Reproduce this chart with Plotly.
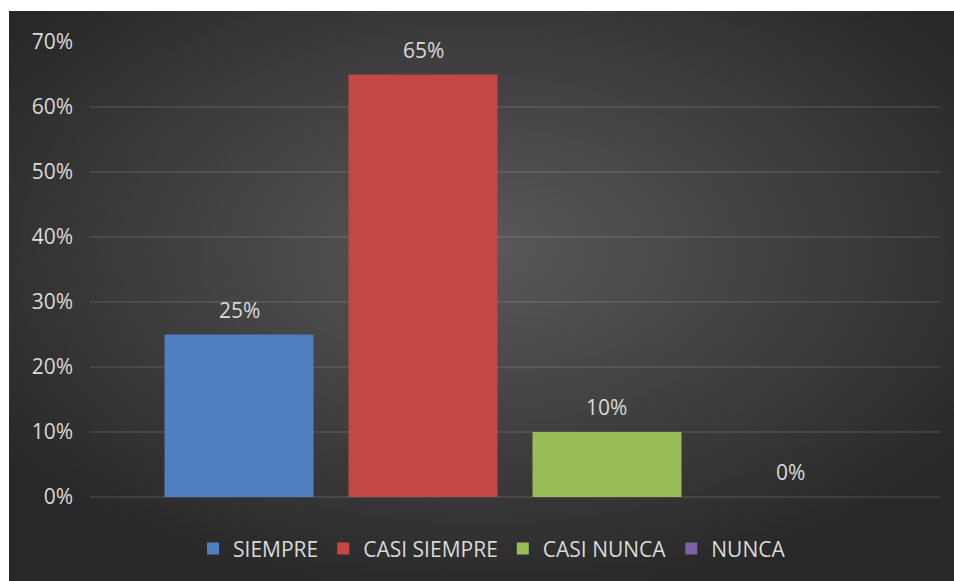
import plotly.graph_objects as go
import base64

categories = ["SIEMPRE", "CASI SIEMPRE", "CASI NUNCA", "NUNCA"]
values = [25, 65, 10, 0]
colors = ["#4f7fbf", "#c24745", "#98bd57", "#7e60a5"]
tick_vals = [0, 10, 20, 30, 40, 50, 60, 70]
tick_text = [f"{v}%" for v in tick_vals]

FONT = "Open Sans"
TXT = "#d9d9d9"
FS = 21

svg = """<svg xmlns='http://www.w3.org/2000/svg' width='100' height='100' viewBox='0 0 100 100' preserveAspectRatio='none'>
<defs><radialGradient id='g' cx='50%' cy='42%' r='62%'>
<stop offset='0%' stop-color='#595959'/><stop offset='100%' stop-color='#282828'/>
</radialGradient></defs><rect width='100' height='100' fill='url(#g)'/></svg>"""
bg_uri = "data:image/svg+xml;base64," + base64.b64encode(svg.encode()).decode()

fig = go.Figure()
for cat, val, col in zip(categories, values, colors):
    fig.add_trace(go.Bar(
        x=[cat], y=[val], name=cat, marker=dict(color=col, line=dict(width=0)),
        width=0.81, hoverinfo="skip",
    ))
    fig.add_annotation(x=cat, y=val, text=f"{val}%", showarrow=False,
                       yshift=25, yanchor="middle",
                       font=dict(family=FONT, size=FS, color=TXT))

L, R, T, B = 90, 14, 42, 84
W, H = 954, 581
pw, ph = W - L - R, H - T - B
x0 = (9 - L) / pw
y_top = (H - B - 11) / ph

fig.add_layout_image(dict(
    source=bg_uri, xref="paper", yref="paper", x=x0, y=y_top,
    sizex=(W - 9) / pw, sizey=(H - 11) / ph, xanchor="left", yanchor="top",
    sizing="stretch", layer="below",
))

fig.update_layout(
    width=W, height=H,
    margin=dict(l=L, r=R, t=T, b=B),
    paper_bgcolor="white", plot_bgcolor="rgba(0,0,0,0)",
    barmode="overlay",
    showlegend=True,
    legend=dict(orientation="h", x=0.473, xanchor="center", y=-0.114, yanchor="middle",
                font=dict(family=FONT, size=FS, color=TXT), bgcolor="rgba(0,0,0,0)",
                traceorder="normal", itemwidth=30),
    xaxis=dict(range=[-0.81, 3.81], showticklabels=False, showgrid=False,
               zeroline=False, showline=False, ticks=""),
    yaxis=dict(range=[0, 70], tickvals=tick_vals, ticktext=tick_text,
               showgrid=True, gridcolor="rgba(255,255,255,0.09)", gridwidth=1.5,
               zeroline=True, zerolinecolor="rgba(255,255,255,0.09)", zerolinewidth=1.5,
               ticks="", ticklabelstandoff=16,
               tickfont=dict(family=FONT, size=FS, color=TXT)),
)

fig.write_html("out.html")
